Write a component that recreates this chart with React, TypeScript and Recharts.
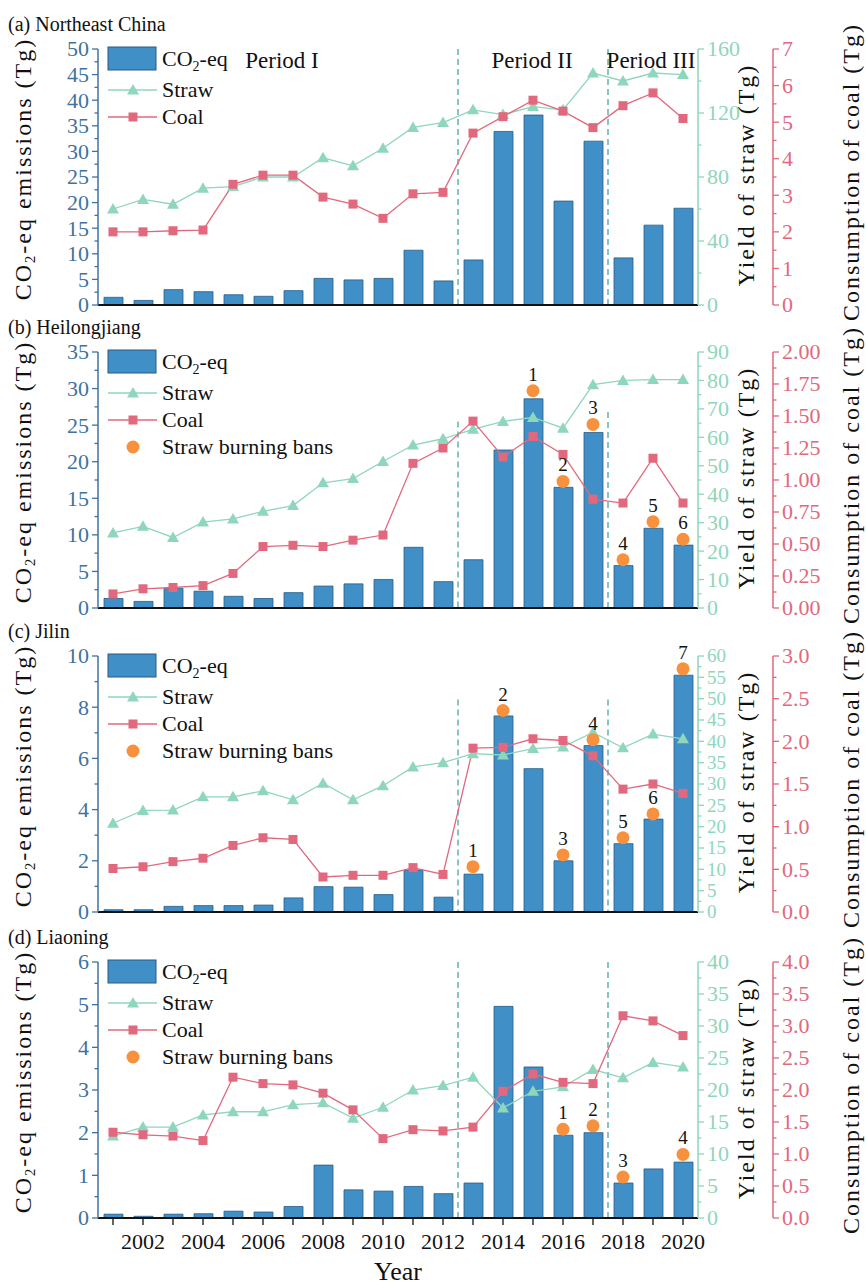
import React from "react";
import {
  ComposedChart,
  Bar,
  Line,
  XAxis,
  YAxis,
  ReferenceLine,
  LabelList,
} from "recharts";

const years = [
  2001, 2002, 2003, 2004, 2005, 2006, 2007, 2008, 2009, 2010, 2011, 2012,
  2013, 2014, 2015, 2016, 2017, 2018, 2019, 2020,
];

// (a) Northeast China
const neCo2 = [1.5, 0.9, 3.0, 2.6, 2.0, 1.7, 2.8, 5.2, 4.9, 5.2, 10.7, 4.7, 8.8, 33.9, 37.1, 20.3, 32.0, 9.2, 15.6, 18.9];
const neStraw = [60, 66, 63, 73, 74, 80, 80, 92, 87, 98, 111, 114, 122, 119, 124, 122, 145, 140, 145, 144];
const neCoal = [2.0, 2.0, 2.03, 2.05, 3.3, 3.55, 3.55, 2.95, 2.76, 2.37, 3.04, 3.08, 4.7, 5.15, 5.6, 5.3, 4.85, 5.45, 5.8, 5.1];

// (b) Heilongjiang
const hljCo2 = [1.3, 0.9, 2.7, 2.3, 1.6, 1.3, 2.1, 3.0, 3.3, 3.9, 8.3, 3.6, 6.6, 21.6, 28.6, 16.5, 24.0, 5.8, 10.9, 8.6];
const hljStraw = [26.4, 28.7, 24.8, 30.2, 31.3, 34.0, 36.0, 44.0, 45.5, 51.5, 57.3, 59.5, 62.8, 65.6, 67.0, 63.2, 78.5, 80.0, 80.3, 80.3];
const hljCoal = [0.11, 0.15, 0.16, 0.175, 0.27, 0.48, 0.49, 0.48, 0.53, 0.57, 1.13, 1.25, 1.46, 1.18, 1.34, 1.2, 0.85, 0.82, 1.17, 0.82];
const hljBans = [null, null, null, null, null, null, null, null, null, null, null, null, null, null, 29.7, 17.3, 25.1, 6.6, 11.8, 9.4];
const hljBanNo = [null, null, null, null, null, null, null, null, null, null, null, null, null, null, 1, 2, 3, 4, 5, 6];

// (c) Jilin
const jlCo2 = [0.09, 0.09, 0.22, 0.25, 0.25, 0.27, 0.55, 0.99, 0.97, 0.68, 1.64, 0.58, 1.48, 7.66, 5.6, 2.0, 6.5, 2.67, 3.63, 9.25];
const jlStraw = [20.8, 23.8, 23.9, 27.0, 27.0, 28.4, 26.3, 30.2, 26.3, 29.6, 34.0, 35.0, 37.1, 36.8, 38.3, 38.7, 42.1, 38.5, 41.7, 40.6];
const jlCoal = [0.51, 0.53, 0.59, 0.63, 0.78, 0.87, 0.85, 0.41, 0.43, 0.43, 0.52, 0.44, 1.92, 1.93, 2.03, 2.01, 1.83, 1.44, 1.5, 1.39];
const jlBans = [null, null, null, null, null, null, null, null, null, null, null, null, 1.77, 7.87, null, 2.23, 6.73, 2.9, 3.83, 9.5];
const jlBanNo = [null, null, null, null, null, null, null, null, null, null, null, null, 1, 2, null, 3, 4, 5, 6, 7];

// (d) Liaoning
const lnCo2 = [0.09, 0.04, 0.09, 0.1, 0.16, 0.14, 0.27, 1.24, 0.66, 0.63, 0.74, 0.57, 0.82, 4.96, 3.54, 1.94, 2.0, 0.82, 1.15, 1.31];
const lnStraw = [12.8, 14.2, 14.2, 16.1, 16.6, 16.6, 17.7, 18.0, 15.6, 17.3, 20.0, 20.7, 22.0, 17.2, 19.8, 20.5, 23.2, 21.9, 24.3, 23.6];
const lnCoal = [1.34, 1.3, 1.28, 1.21, 2.2, 2.1, 2.08, 1.95, 1.69, 1.24, 1.38, 1.36, 1.42, 1.98, 2.25, 2.12, 2.1, 3.16, 3.08, 2.85];
const lnBans = [null, null, null, null, null, null, null, null, null, null, null, null, null, null, null, 2.08, 2.16, 0.96, null, 1.49];
const lnBanNo = [null, null, null, null, null, null, null, null, null, null, null, null, null, null, null, 1, 2, 3, null, 4];

// axis tick labels
const neLeftTicks = [0, 5, 10, 15, 20, 25, 30, 35, 40, 45, 50];
const neStrawTicks = [0, 40, 80, 120, 160];
const neCoalTicks = [0, 1, 2, 3, 4, 5, 6, 7];
const hljLeftTicks = [0, 5, 10, 15, 20, 25, 30, 35];
const hljStrawTicks = [0, 10, 20, 30, 40, 50, 60, 70, 80, 90];
const hljCoalTicks = [0, 0.25, 0.5, 0.75, 1.0, 1.25, 1.5, 1.75, 2.0];
const jlLeftTicks = [0, 2, 4, 6, 8, 10];
const jlStrawTicks = [0, 5, 10, 15, 20, 25, 30, 35, 40, 45, 50, 55, 60];
const jlCoalTicks = [0, 0.5, 1.0, 1.5, 2.0, 2.5, 3.0];
const lnLeftTicks = [0, 1, 2, 3, 4, 5, 6];
const lnStrawTicks = [0, 5, 10, 15, 20, 25, 30, 35, 40];
const lnCoalTicks = [0, 0.5, 1.0, 1.5, 2.0, 2.5, 3.0, 3.5, 4.0];

const FONT = '"Liberation Serif", "Times New Roman", serif';
const BAR = "#418fc7";
const BAR_EDGE = "#285a85";
const LEFT_C = "#3f72a0";
const STRAW_C = "#8ed6bc";
const COAL_C = "#e2687d";
const BAN_C = "#f7913d";
const DASH_C = "#3b9e9a";

const PLOT_H = 256;
const CHART_W = 866;
const M = 20; // top margin of each chart

type Panel = {
  title: string;
  top: number;
  co2: number[];
  straw: number[];
  coal: number[];
  bans?: (number | null)[];
  banNo?: (number | null)[];
  leftTicks: number[];
  strawTicks: number[];
  coalTicks: number[];
  leftDigits: number;
  coalDigits: number;
  strawFont: number;
  dashFrom: (number | null)[];
  showYears: boolean;
  periods?: boolean;
};

const panels: Panel[] = [
  {
    title: "(a) Northeast China", top: 49, co2: neCo2, straw: neStraw, coal: neCoal,
    leftTicks: neLeftTicks, strawTicks: neStrawTicks, coalTicks: neCoalTicks,
    leftDigits: 0, coalDigits: 0, strawFont: 22, dashFrom: [null, null], showYears: false, periods: true,
  },
  {
    title: "(b) Heilongjiang", top: 352, co2: hljCo2, straw: hljStraw, coal: hljCoal,
    bans: hljBans, banNo: hljBanNo,
    leftTicks: hljLeftTicks, strawTicks: hljStrawTicks, coalTicks: hljCoalTicks,
    leftDigits: 0, coalDigits: 2, strawFont: 22, dashFrom: [25.5, 26.8], showYears: false,
  },
  {
    title: "(c) Jilin", top: 656, co2: jlCo2, straw: jlStraw, coal: jlCoal,
    bans: jlBans, banNo: jlBanNo,
    leftTicks: jlLeftTicks, strawTicks: jlStrawTicks, coalTicks: jlCoalTicks,
    leftDigits: 0, coalDigits: 1, strawFont: 19, dashFrom: [8.3, 8.3], showYears: false,
  },
  {
    title: "(d) Liaoning", top: 962, co2: lnCo2, straw: lnStraw, coal: lnCoal,
    bans: lnBans, banNo: lnBanNo,
    leftTicks: lnLeftTicks, strawTicks: lnStrawTicks, coalTicks: lnCoalTicks,
    leftDigits: 0, coalDigits: 1, strawFont: 22, dashFrom: [null, null], showYears: true,
  },
];

const withMinors = (t: number[]) => {
  const out: number[] = [];
  t.forEach((v, i) => {
    out.push(v);
    if (i < t.length - 1) out.push((v + t[i + 1]) / 2);
  });
  return out;
};

function AxisTick(props: any) {
  const { x, y, payload, side, color, majors, digits, size } = props;
  const v = payload.value;
  const isMajor = majors.some((m: number) => Math.abs(m - v) < 1e-6);
  const dir = side === "left" ? -1 : 1;
  const len = isMajor ? 6 : 3.5;
  return (
    <g>
      <line x1={x} y1={y} x2={x + dir * len} y2={y} stroke={color} strokeWidth={1.3} />
      {isMajor && (
        <text
          x={x + dir * 9}
          y={y}
          dy="0.34em"
          textAnchor={side === "left" ? "end" : "start"}
          fill={color}
          fontSize={size || 22}
          fontFamily={FONT}
        >
          {Number(v).toFixed(digits)}
        </text>
      )}
    </g>
  );
}

const TriDot = (p: any) => {
  const { cx, cy } = p;
  if (cx == null || cy == null || p.value == null) return null;
  return <path d={`M${cx},${cy - 6} L${cx + 6},${cy + 4.5} L${cx - 6},${cy + 4.5} Z`} fill={STRAW_C} />;
};

const SquareDot = (p: any) => {
  const { cx, cy } = p;
  if (cx == null || cy == null || p.value == null) return null;
  return <rect x={cx - 4.5} y={cy - 4.5} width={9} height={9} fill={COAL_C} />;
};

const BanDot = (p: any) => {
  const { cx, cy } = p;
  if (cx == null || cy == null || p.value == null) return null;
  return <circle cx={cx} cy={cy} r={6.5} fill={BAN_C} />;
};

const textStyle: React.CSSProperties = {
  position: "absolute",
  fontFamily: FONT,
  color: "#111",
  whiteSpace: "nowrap",
  lineHeight: 1,
};

function RotTitle({ x, y, children }: { x: number; y: number; children: React.ReactNode }) {
  return (
    <div
      style={{
        ...textStyle,
        left: x,
        top: y,
        fontSize: 24,
        letterSpacing: 2,
        transform: "translate(-50%, -50%) rotate(-90deg)",
      }}
    >
      {children}
    </div>
  );
}

function PanelLegend({ bans }: { bans: boolean }) {
  const t = { fontSize: 22, fontFamily: FONT, fill: "#111" };
  return (
    <svg style={{ position: "absolute", left: 100, top: M - 4, overflow: "visible" }} width={300} height={110}>
      <rect x={8} y={2} width={48} height={23} fill={BAR} stroke={BAR_EDGE} strokeWidth={1} />
      <text x={62} y={14} dy="0.34em" {...t}>
        CO<tspan dy={5} fontSize={14}>2</tspan>
        <tspan dy={-5}>-eq</tspan>
      </text>
      <line x1={8} x2={57} y1={45} y2={45} stroke={STRAW_C} strokeWidth={1.3} />
      <path d="M33,39 L39,49.5 L27,49.5 Z" fill={STRAW_C} />
      <text x={62} y={45} dy="0.34em" {...t}>Straw</text>
      <line x1={8} x2={57} y1={72} y2={72} stroke={COAL_C} strokeWidth={1.3} />
      <rect x={28.5} y={67.5} width={9} height={9} fill={COAL_C} />
      <text x={62} y={72} dy="0.34em" {...t}>Coal</text>
      {bans && (
        <>
          <circle cx={33} cy={99} r={6.5} fill={BAN_C} />
          <text x={62} y={99} dy="0.34em" {...t}>Straw burning bans</text>
        </>
      )}
    </svg>
  );
}

function PanelChart({ cfg }: { cfg: Panel }) {
  const rows = years.map((year, i) => ({
    year,
    co2: cfg.co2[i],
    straw: cfg.straw[i],
    coal: cfg.coal[i],
    ban: cfg.bans ? cfg.bans[i] : null,
    banNo: cfg.banNo ? cfg.banNo[i] : null,
  }));
  const xh = cfg.showYears ? 45 : 30;
  const h = M + PLOT_H + xh;
  const lmax = cfg.leftTicks[cfg.leftTicks.length - 1];
  const smax = cfg.strawTicks[cfg.strawTicks.length - 1];
  const cmax = cfg.coalTicks[cfg.coalTicks.length - 1];
  const mid = M + PLOT_H / 2;
  const dashX = [2013, 2018];

  return (
    <div style={{ position: "absolute", left: 0, top: cfg.top - M, width: CHART_W, height: h }}>
      <ComposedChart width={CHART_W} height={h} data={rows} margin={{ top: M, right: 0, bottom: 0, left: 0 }}>
        <XAxis
          dataKey="year"
          height={xh}
          interval={0}
          tickSize={7}
          tickMargin={8}
          tickLine={{ stroke: "#111", strokeWidth: 1.3 }}
          axisLine={{ stroke: "#111", strokeWidth: 2 }}
          tick={cfg.showYears ? { fontSize: 22, fill: "#111", fontFamily: FONT } : false}
          tickFormatter={(v: number) => (v % 2 === 0 ? String(v) : "")}
        />
        <YAxis
          yAxisId="l"
          orientation="left"
          width={98}
          domain={[0, lmax]}
          ticks={withMinors(cfg.leftTicks)}
          interval={0}
          tickSize={0}
          tickMargin={0}
          tickLine={false}
          allowDataOverflow
          axisLine={{ stroke: LEFT_C, strokeWidth: 1.5 }}
          tick={<AxisTick side="left" color={LEFT_C} majors={cfg.leftTicks} digits={cfg.leftDigits} />}
        />
        <YAxis
          yAxisId="r1"
          orientation="right"
          width={75}
          domain={[0, smax]}
          ticks={withMinors(cfg.strawTicks)}
          interval={0}
          tickSize={0}
          tickMargin={0}
          tickLine={false}
          allowDataOverflow
          axisLine={{ stroke: STRAW_C, strokeWidth: 1.5 }}
          tick={<AxisTick side="right" color={STRAW_C} majors={cfg.strawTicks} digits={0} size={cfg.strawFont} />}
        />
        <YAxis
          yAxisId="r2"
          orientation="right"
          width={93}
          domain={[0, cmax]}
          ticks={withMinors(cfg.coalTicks)}
          interval={0}
          tickSize={0}
          tickMargin={0}
          tickLine={false}
          allowDataOverflow
          axisLine={{ stroke: COAL_C, strokeWidth: 1.5 }}
          tick={<AxisTick side="right" color={COAL_C} majors={cfg.coalTicks} digits={cfg.coalDigits} />}
        />
        {dashX.map((x, i) =>
          cfg.dashFrom[i] == null ? (
            <ReferenceLine
              key={x}
              yAxisId="l"
              x={x}
              position="start"
              stroke={DASH_C}
              strokeWidth={1.2}
              strokeDasharray="6 4"
            />
          ) : (
            <ReferenceLine
              key={x}
              yAxisId="l"
              position="start"
              segment={[
                { x, y: cfg.dashFrom[i] as number },
                { x, y: 0 },
              ]}
              stroke={DASH_C}
              strokeWidth={1.2}
              strokeDasharray="6 4"
            />
          )
        )}
        <Bar
          yAxisId="l"
          dataKey="co2"
          fill={BAR}
          stroke={BAR_EDGE}
          strokeWidth={0.8}
          barSize={19}
          isAnimationActive={false}
        />
        <Line
          yAxisId="r1"
          dataKey="straw"
          type="linear"
          stroke={STRAW_C}
          strokeWidth={1.3}
          dot={<TriDot />}
          activeDot={false}
          isAnimationActive={false}
        />
        <Line
          yAxisId="r2"
          dataKey="coal"
          type="linear"
          stroke={COAL_C}
          strokeWidth={1.3}
          dot={<SquareDot />}
          activeDot={false}
          isAnimationActive={false}
        />
        {cfg.bans && (
          <Line
            yAxisId="l"
            dataKey="ban"
            stroke="none"
            dot={<BanDot />}
            activeDot={false}
            isAnimationActive={false}
          >
            <LabelList dataKey="banNo" position="top" offset={10} fill="#111" fontSize={19} fontFamily={FONT} />
          </Line>
        )}
      </ComposedChart>

      <div style={{ ...textStyle, left: 8, top: M - 25, fontSize: 20, transform: "translateY(-50%)" }}>
        {cfg.title}
      </div>
      <PanelLegend bans={!!cfg.bans} />
      {cfg.periods && (
        <>
          <div style={{ ...textStyle, left: 282, top: M + 11, fontSize: 23, transform: "translate(-50%, -50%)" }}>Period I</div>
          <div style={{ ...textStyle, left: 532, top: M + 11, fontSize: 23, transform: "translate(-50%, -50%)" }}>Period II</div>
          <div style={{ ...textStyle, left: 651, top: M + 11, fontSize: 23, transform: "translate(-50%, -50%)" }}>Period III</div>
        </>
      )}
      <RotTitle x={24} y={mid - 8}>
        CO<sub style={{ fontSize: "0.6em", verticalAlign: "-0.3em" }}>2</sub>-eq emissions (Tg)
      </RotTitle>
      <RotTitle x={746} y={mid - 2}>Yield of straw (Tg)</RotTitle>
      <RotTitle x={851} y={mid - 5}>Consumption of coal (Tg)</RotTitle>
    </div>
  );
}

export default function App() {
  return (
    <div style={{ position: "absolute", left: 0, top: 0, width: 866, height: 1287, background: "#fff" }}>
      {panels.map((p) => (
        <PanelChart key={p.title} cfg={p} />
      ))}
      <div style={{ ...textStyle, left: 398, top: 1272, fontSize: 26, transform: "translate(-50%, -50%)" }}>Year</div>
    </div>
  );
}
